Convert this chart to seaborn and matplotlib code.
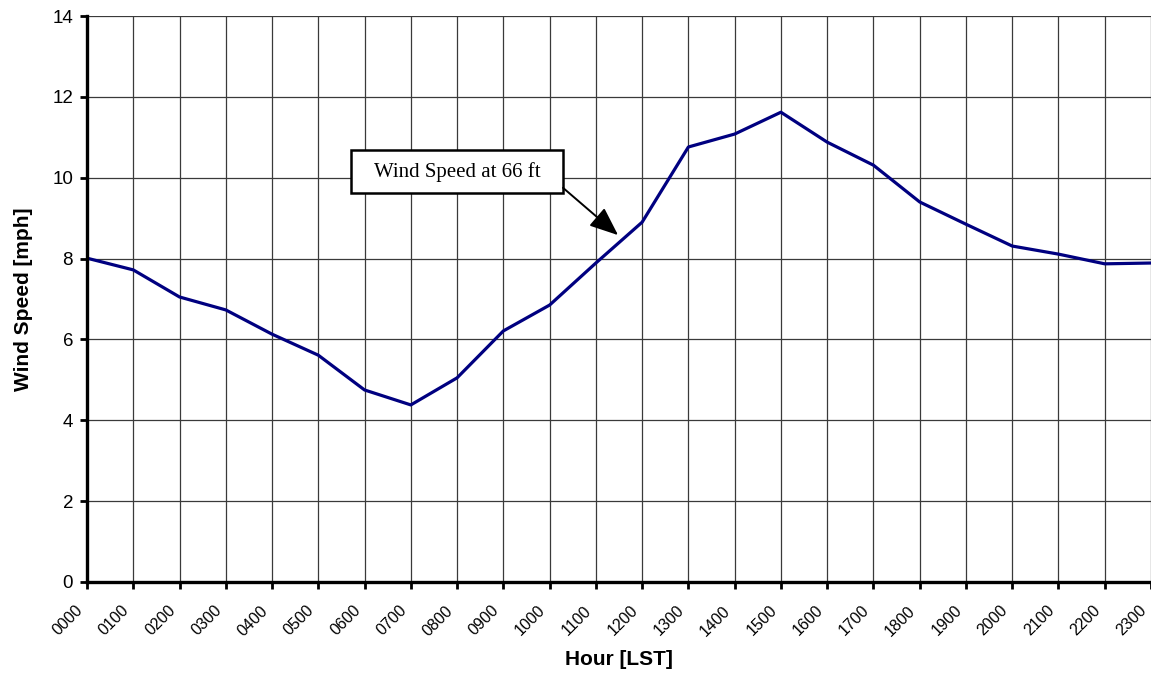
import matplotlib
matplotlib.use("Agg")
import matplotlib.pyplot as plt
import matplotlib.transforms as mtransforms
from matplotlib.patches import Rectangle
import seaborn as sns
import pandas as pd

hours = ["0000", "0100", "0200", "0300", "0400", "0500", "0600", "0700",
         "0800", "0900", "1000", "1100", "1200", "1300", "1400", "1500",
         "1600", "1700", "1800", "1900", "2000", "2100", "2200", "2300"]
wind_speed = [8.01, 7.72, 7.05, 6.73, 6.13, 5.61, 4.75, 4.38,
              5.05, 6.21, 6.85, 7.89, 8.90, 10.76, 11.08, 11.62,
              10.88, 10.31, 9.40, 8.85, 8.31, 8.11, 7.87, 7.89]
y_ticks = [0, 2, 4, 6, 8, 10, 12, 14]

sns.set_theme(style="white")
plt.rcParams['font.family'] = ['Liberation Sans', 'DejaVu Sans']
plt.rcParams.update({"text.color": "black", "axes.labelcolor": "black",
                     "xtick.color": "black", "ytick.color": "black"})

df = pd.DataFrame({"pos": range(len(hours)), "hour": hours, "speed": wind_speed})

W, H = 1151, 673
fig = plt.figure(figsize=(W / 100, H / 100), dpi=100)
ax = fig.add_axes([87 / W, 1 - 582 / H, (1151 - 87) / W, (582 - 16) / H])

sns.lineplot(data=df, x="pos", y="speed", ax=ax, color="#000080", linewidth=2.3)

ax.set_xlim(0, len(hours) - 1)
ax.set_ylim(0, 14)
ax.set_xticks(range(len(hours)))
ax.set_xticklabels(hours, rotation=45, ha="right", rotation_mode="anchor", fontsize=11.5)
ax.set_yticks(y_ticks)
ax.set_yticklabels([str(v) for v in y_ticks], fontsize=13.5)

ax.grid(True, color="#3a3a3a", linewidth=0.9)
for s in ["top", "right"]:
    ax.spines[s].set_visible(False)
for s in ["left", "bottom"]:
    ax.spines[s].set_color("black")
    ax.spines[s].set_linewidth(2.4)
    ax.spines[s].set_zorder(5)
ax.tick_params(axis="both", direction="out", length=5, width=2, color="black",
               labelcolor="black", bottom=True, left=True, pad=5)

# shift the rotated hour labels so their upper-right end sits left of each tick
offset = mtransforms.ScaledTranslation(-12 / 100, -7 / 100, fig.dpi_scale_trans)
for lbl in ax.get_xticklabels():
    lbl.set_transform(lbl.get_transform() + offset)

ax.set_xlabel("Hour [LST]", fontsize=15, fontweight="bold", labelpad=8, color="black")
ax.set_ylabel("Wind Speed [mph]", fontsize=15, fontweight="bold", labelpad=14, color="black")

# annotation callout box
box_x0, box_x1 = 5.707, 10.29
box_y0, box_y1 = 9.62, 10.685
ax.add_patch(Rectangle((box_x0, box_y0), box_x1 - box_x0, box_y1 - box_y0,
                       fc="white", ec="black", lw=1.8, zorder=6))
ax.text((box_x0 + box_x1) / 2, (box_y0 + box_y1) / 2, "Wind Speed at 66 ft",
        ha="center", va="center", fontsize=15, family="Liberation Serif",
        color="black", zorder=7)
ax.annotate("", xy=(11.48, 8.58), xytext=(box_x1, 9.75),
            arrowprops=dict(arrowstyle="-|>,head_length=1.1,head_width=0.45",
                            mutation_scale=16, color="black", lw=1.4,
                            shrinkA=0, shrinkB=0),
            zorder=6)

fig.savefig("out.png", dpi=100)
